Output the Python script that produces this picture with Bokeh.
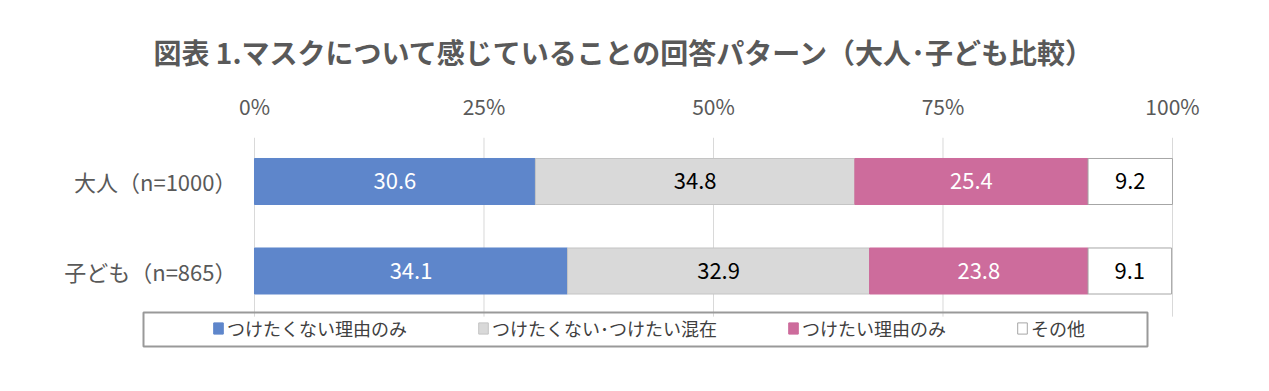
from bokeh.plotting import figure
from bokeh.models import (ColumnDataSource, FixedTicker, PrintfTickFormatter, Legend,
                          LegendItem, BoxAnnotation, Range1d)
from bokeh.core.properties import value
from bokeh.embed import file_html
from bokeh.resources import INLINE

FONT = "Noto Sans CJK JP"

title_text = "図表 1.マスクについて感じていることの回答パターン（大人･子ども比較）"
categories = ["大人（n=1000）", "子ども（n=865）"]
series_names = ["つけたくない理由のみ", "つけたくない･つけたい混在", "つけたい理由のみ", "その他"]
adult_values = [30.6, 34.8, 25.4, 9.2]
child_values = [34.1, 32.9, 23.8, 9.1]
x_ticks = [0, 25, 50, 75, 100]

fill_colors = ["#5E86CB", "#D9D9D9", "#CD6C9C", "#FFFFFF"]
line_colors = ["#5E86CB", "#C4C4C4", "#CD6C9C", "#A6A6A6"]
label_colors = ["#FFFFFF", "#000000", "#FFFFFF", "#000000"]

rows = [adult_values, child_values]
# vertical position of each category (top row first)
row_pos = [1, 0]

p = figure(width=1261, height=383,
           x_range=Range1d(-12.4183, 100.8715), y_range=Range1d(-1.0, 1.4916),
           x_axis_location="above",
           output_backend="svg", toolbar_location=None,
           min_border_left=140, min_border_right=81,
           min_border_top=137, min_border_bottom=23)
p.outline_line_color = None
p.background_fill_color = "white"
p.border_fill_color = "white"
p.xgrid.grid_line_color = None
p.ygrid.grid_line_color = None

# vertical grid lines at the tick positions (stop at the legend box)
p.segment(x0=x_ticks, x1=x_ticks, y0=[1.4916] * len(x_ticks), y1=[-0.51] * len(x_ticks),
          line_color="#D9D9D9", line_width=1)

renderers = []
for i, name in enumerate(series_names):
    lefts, rights, mids, texts = [], [], [], []
    for vals in rows:
        left = sum(vals[:i])
        right = left + vals[i]
        lefts.append(left)
        rights.append(right)
        mids.append((left + right) / 2)
        texts.append("%.1f" % vals[i])
    src = ColumnDataSource(dict(y=row_pos, left=lefts, right=rights, mid=mids, txt=texts))
    r = p.hbar(y="y", left="left", right="right", height=0.514, source=src,
               fill_color=fill_colors[i], line_color=line_colors[i], line_width=1)
    renderers.append(r)
    p.text(x="mid", y="y", text="txt", source=src, text_align="center",
           text_baseline="middle", text_font=value(FONT), text_font_size="22px",
           text_color=label_colors[i])

# x axis (top)
p.xaxis.ticker = FixedTicker(ticks=x_ticks)
p.xaxis.formatter = PrintfTickFormatter(format="%d%%")
p.xaxis.axis_line_color = None
p.xaxis.major_tick_line_color = None
p.xaxis.minor_tick_line_color = None
p.xaxis.major_label_text_font = FONT
p.xaxis.major_label_text_font_size = "21px"
p.xaxis.major_label_text_color = "#595959"
p.xaxis.major_label_standoff = 11

# y axis (category labels)
p.yaxis.ticker = FixedTicker(ticks=row_pos)
p.yaxis.major_label_overrides = {pos: cat for pos, cat in zip(row_pos, categories)}
p.yaxis.axis_line_color = None
p.yaxis.major_tick_line_color = None
p.yaxis.minor_tick_line_color = None
p.yaxis.major_label_text_font = FONT
p.yaxis.major_label_text_font_size = "22px"
p.yaxis.major_label_text_color = "#595959"
p.yaxis.major_label_standoff = -102

# title
p.title.text = title_text
p.title.text_font = FONT
p.title.text_font_size = "28px"
p.title.text_font_style = "bold"
p.title.text_color = "#595959"
p.title.align = "left"
p.title.offset = 13
p.title.standoff = 32

# legend box
p.add_layout(BoxAnnotation(left=3, right=1007, top=48, bottom=14,
                           left_units="screen", right_units="screen",
                           top_units="screen", bottom_units="screen",
                           fill_alpha=0, line_color="#999999", line_alpha=1.0, line_width=2))

legend = Legend(items=[LegendItem(label=n, renderers=[r]) for n, r in zip(series_names, renderers)],
                orientation="horizontal", location=(72, 19), padding=0, spacing=70,
                border_line_alpha=0, background_fill_alpha=0, margin=0,
                label_text_font=FONT, label_text_font_size="18px", label_text_color="#404040",
                glyph_width=12, glyph_height=14, label_standoff=3)
p.add_layout(legend)

open("out.html", "w").write(file_html(p, INLINE))
